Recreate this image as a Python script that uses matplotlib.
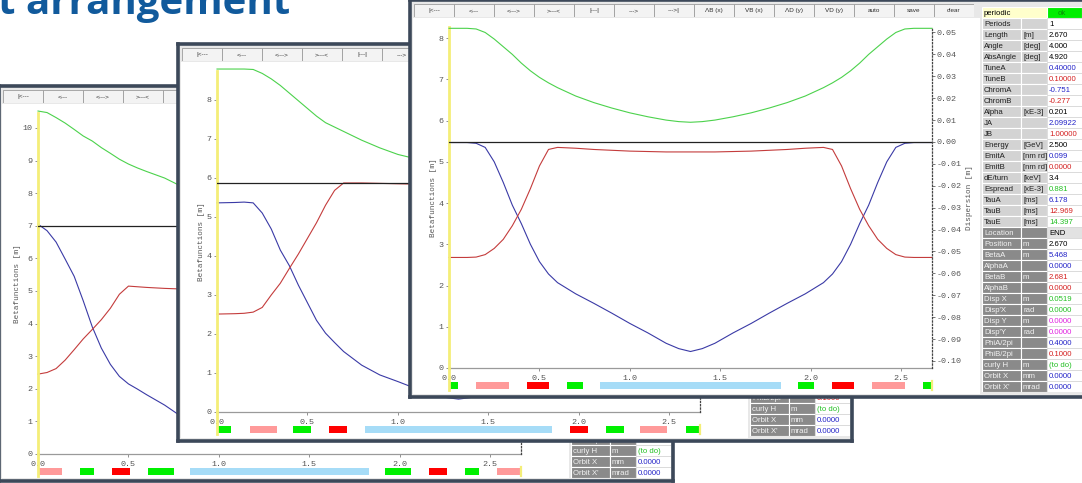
import matplotlib.pyplot as plt
from matplotlib.patches import Rectangle

W, H = 1082, 483
MONO = 'Liberation Mono'
SANS = 'Liberation Sans'

# element colours in the lattice bar
GRN, RED, PNK, BND = '#00f000', '#ff0000', '#ff9a9a', '#a6dcf7'

# lattice layout: (s_start, s_end, colour) in metres
elems_1 = [(0.0, 0.13, PNK), (0.23, 0.31, GRN), (0.41, 0.51, RED), (0.61, 0.75, GRN),
           (0.84, 1.83, BND), (1.92, 2.06, GRN), (2.16, 2.26, RED), (2.36, 2.44, GRN),
           (2.54, 2.67, PNK)]
elems_2 = [(0.0, 0.08, GRN), (0.18, 0.33, PNK), (0.42, 0.52, GRN), (0.62, 0.72, RED),
           (0.82, 1.85, BND), (1.95, 2.05, RED), (2.15, 2.25, GRN), (2.34, 2.49, PNK),
           (2.59, 2.67, GRN)]
elems_3 = [(0.0, 0.05, GRN), (0.15, 0.33, PNK), (0.43, 0.555, RED), (0.65, 0.74, GRN),
           (0.835, 1.835, BND), (1.93, 2.02, GRN), (2.115, 2.24, RED), (2.34, 2.52, PNK),
           (2.62, 2.67, GRN)]

# optics along the cell: s [m], betaA [m], betaB [m], dispersion [m]
s_1 = [0, 0.05, 0.1, 0.15, 0.2, 0.25, 0.3, 0.35, 0.4, 0.45, 0.5, 0.55, 0.6, 0.7, 0.8, 0.9,
       1.0, 1.1, 1.2, 1.27, 1.335, 1.4, 1.47, 1.57, 1.67, 1.77, 1.87, 1.97, 2.07, 2.12,
       2.17, 2.22, 2.27, 2.32, 2.37, 2.42, 2.47, 2.52, 2.57, 2.62, 2.67]
beta_a_1 = [7.05, 6.85, 6.5, 5.98, 5.45, 4.7, 3.9, 3.25, 2.75, 2.38, 2.15, 1.99, 1.82, 1.5,
            1.12, 0.85, 0.66, 0.52, 0.43, 0.40, 0.39, 0.40, 0.43, 0.52, 0.66, 0.85, 1.12,
            1.5, 1.82, 1.99, 2.15, 2.38, 2.75, 3.25, 3.9, 4.7, 5.45, 5.98, 6.5, 6.85, 7.05]
beta_b_1 = [2.45, 2.5, 2.62, 2.88, 3.2, 3.53, 3.82, 4.12, 4.47, 4.9, 5.15, 5.13, 5.11, 5.08,
            5.06, 5.05, 5.04, 5.03, 5.03, 5.03, 5.03, 5.03, 5.03, 5.03, 5.04, 5.05, 5.06,
            5.08, 5.11, 5.13, 5.15, 4.9, 4.47, 4.12, 3.82, 3.53, 3.2, 2.88, 2.62, 2.5, 2.45]
disp_1 = [0.0525, 0.0518, 0.0495, 0.047, 0.0441, 0.0411, 0.0388, 0.0358, 0.0332, 0.0305,
          0.0283, 0.0265, 0.0249, 0.0219, 0.0178, 0.0155, 0.0135, 0.012, 0.011, 0.0105,
          0.0103, 0.0105, 0.011, 0.012, 0.0135, 0.0155, 0.0178, 0.0219, 0.0249, 0.0265,
          0.0283, 0.0305, 0.0332, 0.0358, 0.0388, 0.0411, 0.0441, 0.047, 0.0495, 0.0518,
          0.0525]

s_2 = [0, 0.1, 0.15, 0.2, 0.25, 0.3, 0.35, 0.4, 0.45, 0.5, 0.55, 0.6, 0.65, 0.7, 0.8, 0.9,
       1.0, 1.1, 1.2, 1.27, 1.335, 1.4, 1.47, 1.57, 1.67, 1.77, 1.87, 1.97, 2.02, 2.07,
       2.12, 2.17, 2.22, 2.27, 2.32, 2.37, 2.42, 2.47, 2.52, 2.57, 2.67]
beta_a_2 = [5.36, 5.37, 5.38, 5.36, 5.1, 4.69, 4.15, 3.75, 3.25, 2.8, 2.35, 2.02, 1.78, 1.55,
            1.2, 0.95, 0.78, 0.6, 0.45, 0.37, 0.33, 0.37, 0.45, 0.6, 0.78, 0.95, 1.2, 1.55,
            1.78, 2.02, 2.35, 2.8, 3.25, 3.75, 4.15, 4.69, 5.1, 5.36, 5.38, 5.37, 5.36]
beta_b_2 = [2.51, 2.52, 2.53, 2.56, 2.68, 3.0, 3.3, 3.68, 4.05, 4.45, 4.85, 5.3, 5.68, 5.87,
            5.87, 5.86, 5.85, 5.84, 5.83, 5.83, 5.83, 5.83, 5.83, 5.84, 5.85, 5.86, 5.87,
            5.87, 5.68, 5.3, 4.85, 4.45, 4.05, 3.68, 3.3, 3.0, 2.68, 2.56, 2.53, 2.52, 2.51]
disp_2 = [0.052, 0.052, 0.052, 0.0518, 0.05, 0.0475, 0.0445, 0.041, 0.0375, 0.034, 0.0305,
          0.0275, 0.0255, 0.0235, 0.0195, 0.016, 0.013, 0.011, 0.0098, 0.0093, 0.0092,
          0.0093, 0.0098, 0.011, 0.013, 0.016, 0.0195, 0.0235, 0.0255, 0.0275, 0.0305,
          0.034, 0.0375, 0.041, 0.0445, 0.0475, 0.05, 0.0518, 0.052, 0.052, 0.052]

s_3 = [0, 0.1, 0.15, 0.2, 0.25, 0.3, 0.35, 0.4, 0.45, 0.5, 0.55, 0.6, 0.7, 0.8, 0.9, 1.0,
       1.1, 1.2, 1.27, 1.335, 1.4, 1.47, 1.57, 1.67, 1.77, 1.87, 1.97, 2.07, 2.12, 2.17,
       2.22, 2.27, 2.32, 2.37, 2.42, 2.47, 2.52, 2.57, 2.67]
beta_a_3 = [5.468, 5.468, 5.45, 5.35, 5.0, 4.5, 3.95, 3.5, 3.0, 2.58, 2.28, 2.07, 1.8, 1.57,
            1.33, 1.08, 0.85, 0.6, 0.47, 0.40, 0.47, 0.6, 0.85, 1.08, 1.33, 1.57, 1.8, 2.07,
            2.28, 2.58, 3.0, 3.5, 3.95, 4.5, 5.0, 5.35, 5.45, 5.468, 5.468]
beta_b_3 = [2.681, 2.681, 2.69, 2.75, 2.9, 3.12, 3.45, 3.85, 4.35, 4.9, 5.3, 5.35, 5.33, 5.3,
            5.28, 5.26, 5.25, 5.24, 5.24, 5.24, 5.24, 5.24, 5.25, 5.26, 5.28, 5.3, 5.33,
            5.35, 5.3, 4.9, 4.35, 3.85, 3.45, 3.12, 2.9, 2.75, 2.69, 2.681, 2.681]
disp_3 = [0.0519, 0.0519, 0.0516, 0.05, 0.047, 0.0435, 0.04, 0.036, 0.0325, 0.0295, 0.027,
          0.0248, 0.021, 0.018, 0.0155, 0.0133, 0.0115, 0.01, 0.0093, 0.009, 0.0093, 0.01,
          0.0115, 0.0133, 0.0155, 0.018, 0.021, 0.0248, 0.027, 0.0295, 0.0325, 0.036, 0.04,
          0.0435, 0.047, 0.05, 0.0516, 0.0519, 0.0519]

disp_ticks = [0.05, 0.04, 0.03, 0.02, 0.01, 0.0, -0.01, -0.02, -0.03, -0.04,
              -0.05, -0.06, -0.07, -0.08, -0.09, -0.10]

buttons = ['|<---', '<---', '<--->', '>---<', '|---|', '--->', '--->|',
           'ΛB (x)', 'VB (x)', 'ΛD (y)', 'VD (y)', 'auto', 'save', 'clear']

# summary table: label, unit, value, value colour
BLU, RD, GN, MAG = '#2424c8', '#d42020', '#22c022', '#e020e0'
table_rows = [
    ('Periods', '', '1', 'k'), ('Length', '[m]', '2.670', 'k'),
    ('Angle', '[deg]', '4.000', 'k'), ('AbsAngle', '[deg]', '4.920', 'k'),
    ('TuneA', '', '0.40000', BLU), ('TuneB', '', '0.10000', RD),
    ('ChromA', '', '-0.751', BLU), ('ChromB', '', '-0.277', RD),
    ('Alpha', '[xE-3]', '0.201', 'k'), ('JA', '', '2.09922', BLU),
    ('JB', '', '1.00000', RD), ('Energy', '[GeV]', '2.500', 'k'),
    ('EmitA', '[nm rd]', '0.099', BLU), ('EmitB', '[nm rd]', '0.0000', RD),
    ('dE/turn', '[keV]', '3.4', 'k'), ('Espread', '[xE-3]', '0.881', GN),
    ('TauA', '[ms]', '6.178', BLU), ('TauB', '[ms]', '12.969', RD),
    ('TauE', '[ms]', '14.397', GN),
    ('Location', '', 'END', 'k'), ('Position', 'm', '2.670', 'k'),
    ('BetaA', 'm', '5.468', BLU), ('AlphaA', '', '0.0000', BLU),
    ('BetaB', 'm', '2.681', RD), ('AlphaB', '', '0.0000', RD),
    ('Disp X', 'm', '0.0519', GN), ("Disp'X", 'rad', '0.0000', GN),
    ('Disp Y', 'm', '0.0000', MAG), ("Disp'Y", 'rad', '0.0000', MAG),
    ('PhiA/2pi', '', '0.4000', BLU), ('PhiB/2pi', '', '0.1000', RD),
    ('curly H', 'm', '(to do)', GN), ('Orbit X', 'mm', '0.0000', BLU),
    ("Orbit X'", 'mrad', '0.0000', BLU),
]

fig = plt.figure(figsize=(W / 100, H / 100), dpi=100)
fig.patch.set_facecolor('white')


def box(x0, y0, x1, y1, z):
    ax = fig.add_axes([x0 / W, 1 - y1 / H, (x1 - x0) / W, (y1 - y0) / H])
    ax.set_zorder(z)
    return ax


def plain(ax, fc):
    ax.set_facecolor(fc)
    ax.set_xticks([])
    ax.set_yticks([])
    for sp in ax.spines.values():
        sp.set_visible(False)


def draw_window(dx, dy, z, s, ba, bb, disp, elems, ytop, dlim, first_row, front,
                bottom=397):
    frame = box(410 + dx, dy, 1084 + dx, bottom + dy, z)
    plain(frame, '#e8e8e8')
    for sp in frame.spines.values():
        sp.set_visible(True)
        sp.set_color('#3c4859')
        sp.set_linewidth(2.6)
    panel = box(413 + dx, 18 + dy, 980 + dx, bottom - 3 + dy, z + 1)
    plain(panel, 'white')

    # button bar
    tb = box(414 + dx, 4 + dy, 974 + dx, 17 + dy, z + 2)
    tb.set_xlim(0, len(buttons))
    tb.set_ylim(0, 1)
    tb.axis('off')
    for i, b in enumerate(buttons):
        tb.add_patch(Rectangle((i, 0), 1, 1, fc='#f3f3f3', ec='#9c9c9c', lw=0.6))
        tb.text(i + 0.5, 0.48, b, ha='center', va='center', fontsize=4.6,
                family=SANS, color='#303030')

    # beta functions
    ax = box(449 + dx, 27 + dy, 932 + dx, 368 + dy, z + 3)
    ax.patch.set_visible(False)
    ax.plot(s, ba, color='#3a3aa6', lw=0.8, clip_on=False)
    ax.plot(s, bb, color='#c43c3c', lw=0.8, clip_on=False)
    ax.set_xlim(0, 2.67)
    ax.set_ylim(0, ytop)
    ax.set_xticks([0, 0.5, 1.0, 1.5, 2.0, 2.5])
    ax.set_xticklabels(['0.0', '0.5', '1.0', '1.5', '2.0', '2.5'])
    ax.set_yticks(range(0, int(ytop) + 1))
    ax.tick_params(length=2.5, width=0.6, color='#808080', labelsize=6,
                   labelcolor='#555555', pad=1.2, labelfontfamily=MONO)
    ax.tick_params(axis='x', pad=2.6)
    for side in ('top', 'right'):
        ax.spines[side].set_visible(False)
    ax.spines['left'].set_color('#f4ee78')
    ax.spines['left'].set_linewidth(2)
    ax.spines['bottom'].set_color('#9a9a9a')
    ax.spines['bottom'].set_linewidth(0.9)
    ax.set_ylabel('Betafunctions [m]', family=MONO, fontsize=5.5, color='#555555',
                  labelpad=1)

    # dispersion on the right scale
    ax2 = ax.twinx()
    ax2.set_zorder(z + 4)
    ax2.axhline(0, color='#222222', lw=0.9)
    ax2.plot(s, disp, color='#4cd24c', lw=0.8, clip_on=False)
    ax2.set_ylim(*dlim)
    for side in ('top', 'left', 'bottom'):
        ax2.spines[side].set_visible(False)
    ax2.spines['right'].set_linestyle(':')
    ax2.spines['right'].set_color('#444444')
    ax2.spines['right'].set_linewidth(0.9)
    if front:
        ax2.set_yticks(disp_ticks)
        ax2.set_yticklabels(['%.2f' % t for t in disp_ticks])
        ax2.tick_params(length=2, width=0.6, color='#606060', labelsize=6,
                        labelcolor='#555555', pad=1.2, labelfontfamily=MONO)
        ax2.set_ylabel('Dispersion [m]', family=MONO, fontsize=5.5, color='#555555',
                       labelpad=3)
    else:
        ax2.set_yticks([])

    # lattice element bar
    eb = box(449 + dx, 368 + dy, 932 + dx, 390 + dy, z + 3)
    eb.patch.set_visible(False)
    eb.set_xlim(0, 2.67)
    eb.set_ylim(22, 0)
    for a, b, c in elems:
        eb.barh(17.5, b - a, left=a, height=7, color=c)
    eb.set_xticks([])
    eb.set_yticks([])
    eb.spines['top'].set_visible(False)
    eb.spines['bottom'].set_visible(False)
    for side in ('left', 'right'):
        eb.spines[side].set_color('#f4ee78')
        eb.spines[side].set_linewidth(1.6 if side == 'right' else 2)
    eb.spines['right'].set_bounds(13, 22)

    # parameter table
    tab = box(982 + dx, 7 + dy, 1082 + dx, 392 + dy, z + 5)
    tab.set_xlim(0, 100)
    tab.set_ylim(35, 0)
    tab.axis('off')
    if first_row == 0:
        tab.add_patch(Rectangle((0, 0), 65, 1, fc='#ffffcc', ec='white', lw=0.8))
        tab.add_patch(Rectangle((65, 0), 35, 1, fc='#00ee00', ec='white', lw=0.8))
        tab.text(2, 0.55, 'periodic', va='center', fontsize=5.6, family=SANS)
        tab.text(80, 0.55, 'ok', va='center', ha='center', fontsize=5.6, family=SANS,
                 color='#0a8a0a')
    for i, (lab, unit, val, col) in enumerate(table_rows):
        r = i + 1
        if r < first_row:
            continue
        lower = r >= 20
        fc = '#8a8a8a' if lower else '#d3d3d3'
        tc = '#f2f2f2' if lower else '#202020'
        tab.add_patch(Rectangle((0, r), 39, 1, fc=fc, ec='white', lw=0.8))
        tab.add_patch(Rectangle((39, r), 26, 1, fc=fc, ec='white', lw=0.8))
        vfc = '#e2e2e2' if lab == 'Location' else 'white'
        tab.add_patch(Rectangle((65, r), 35, 1, fc=vfc, ec='#d8d8d8', lw=0.6))
        tab.text(2, r + 0.55, lab, va='center', fontsize=5.6, family=SANS, color=tc)
        tab.text(41, r + 0.55, unit, va='center', fontsize=5.6, family=SANS, color=tc)
        tab.text(67, r + 0.55, val, va='center', fontsize=5.6, family=SANS, color=col)


draw_window(-411, 86, 10, s_1, beta_a_1, beta_b_1, disp_1, elems_1, 10.46,
            (-0.1041, 0.0516), 31, False, bottom=395)
draw_window(-232, 44, 30, s_2, beta_a_2, beta_b_2, disp_2, elems_2, 8.74,
            (-0.1046, 0.0511), 31, False)
draw_window(0, 0, 50, s_3, beta_a_3, beta_b_3, disp_3, elems_3, 8.27,
            (-0.1032, 0.0525), 0, True)

fig.text(-2 / W, 1 - 14 / H, 't arrangement', fontsize=29, fontweight='bold',
         family='Open Sans', color='#115a9c', ha='left', va='baseline')

fig.savefig('out.png', dpi=100)
